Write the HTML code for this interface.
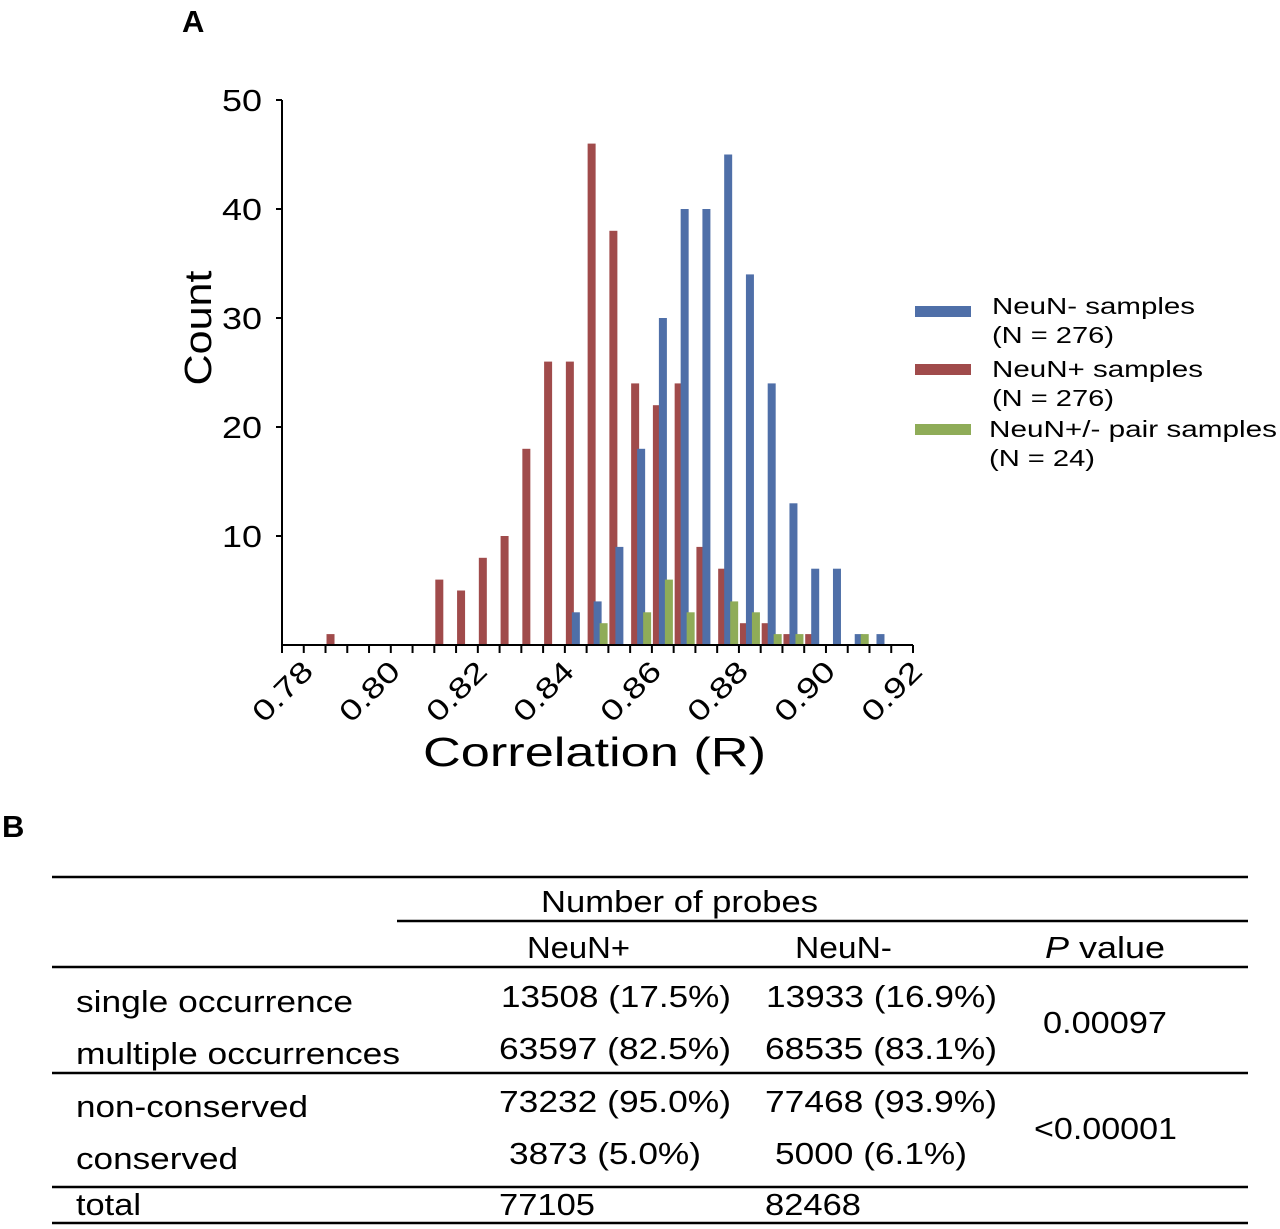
<!DOCTYPE html>
<html><head><meta charset="utf-8"><style>
html,body{margin:0;padding:0;background:#fff;}
svg{display:block;font-family:"Liberation Sans",Arial,sans-serif;}
</style></head><body>
<svg id="fig" width="1280" height="1229" viewBox="0 0 1280 1229">
<text x="182" y="32" font-size="31" font-weight="bold">A</text>
<text x="2" y="837" font-size="31" font-weight="bold">B</text>
<g id="chart"></g>
<g id="legend" font-size="23" lengthAdjust="spacingAndGlyphs">
 <rect x="915" y="306" width="56" height="11" fill="#4f6fa8"/>
 <text x="992" y="314" textLength="203" lengthAdjust="spacingAndGlyphs">NeuN- samples</text>
 <text x="992" y="343" textLength="122" lengthAdjust="spacingAndGlyphs">(N = 276)</text>
 <rect x="915" y="364" width="56" height="11" fill="#a04b4b"/>
 <text x="992" y="377" textLength="211" lengthAdjust="spacingAndGlyphs">NeuN+ samples</text>
 <text x="992" y="406" textLength="122" lengthAdjust="spacingAndGlyphs">(N = 276)</text>
 <rect x="915" y="424" width="56" height="11" fill="#8fac58"/>
 <text x="989" y="437" textLength="288" lengthAdjust="spacingAndGlyphs">NeuN+/- pair samples</text>
 <text x="989" y="466" textLength="106" lengthAdjust="spacingAndGlyphs">(N = 24)</text>
</g>
<g id="table" font-size="31">
 <line x1="52" y1="877" x2="1248" y2="877" stroke="#000" stroke-width="2.5"/>
 <line x1="397" y1="921" x2="1248" y2="921" stroke="#000" stroke-width="2.5"/>
 <line x1="52" y1="967" x2="1248" y2="967" stroke="#000" stroke-width="2.5"/>
 <line x1="52" y1="1073" x2="1248" y2="1073" stroke="#000" stroke-width="2.5"/>
 <line x1="52" y1="1187" x2="1248" y2="1187" stroke="#000" stroke-width="2.5"/>
 <line x1="52" y1="1223" x2="1248" y2="1223" stroke="#000" stroke-width="2.5"/>
 <text x="541" y="912" textLength="277" lengthAdjust="spacingAndGlyphs">Number of probes</text>
 <text x="527" y="958" textLength="103" lengthAdjust="spacingAndGlyphs">NeuN+</text>
 <text x="795" y="958" textLength="97" lengthAdjust="spacingAndGlyphs">NeuN-</text>
 <text x="1045" y="958" textLength="120" lengthAdjust="spacingAndGlyphs"><tspan font-style="italic">P</tspan>  value</text>
 <text x="76" y="1012" textLength="277" lengthAdjust="spacingAndGlyphs">single occurrence</text>
 <text x="76" y="1064" textLength="324" lengthAdjust="spacingAndGlyphs">multiple occurrences</text>
 <text x="76" y="1117" textLength="232" lengthAdjust="spacingAndGlyphs">non-conserved</text>
 <text x="76" y="1169" textLength="162" lengthAdjust="spacingAndGlyphs">conserved</text>
 <text x="76" y="1215" textLength="65" lengthAdjust="spacingAndGlyphs">total</text>
 <text x="501" y="1007" textLength="230" lengthAdjust="spacingAndGlyphs">13508 (17.5%)</text>
 <text x="499" y="1059" textLength="232" lengthAdjust="spacingAndGlyphs">63597 (82.5%)</text>
 <text x="499" y="1112" textLength="232" lengthAdjust="spacingAndGlyphs">73232 (95.0%)</text>
 <text x="509" y="1164" textLength="192" lengthAdjust="spacingAndGlyphs">3873 (5.0%)</text>
 <text x="499" y="1215" textLength="96" lengthAdjust="spacingAndGlyphs">77105</text>
 <text x="766" y="1007" textLength="231" lengthAdjust="spacingAndGlyphs">13933 (16.9%)</text>
 <text x="765" y="1059" textLength="232" lengthAdjust="spacingAndGlyphs">68535 (83.1%)</text>
 <text x="765" y="1112" textLength="232" lengthAdjust="spacingAndGlyphs">77468 (93.9%)</text>
 <text x="775" y="1164" textLength="192" lengthAdjust="spacingAndGlyphs">5000 (6.1%)</text>
 <text x="765" y="1215" textLength="96" lengthAdjust="spacingAndGlyphs">82468</text>
 <text x="1043" y="1033" textLength="124" lengthAdjust="spacingAndGlyphs">0.00097</text>
 <text x="1034" y="1139" textLength="143" lengthAdjust="spacingAndGlyphs">&lt;0.00001</text>
</g>
</svg>
<script>
const categories = [0.78,0.785,0.79,0.795,0.80,0.805,0.81,0.815,0.82,0.825,0.83,0.835,0.84,0.845,0.85,0.855,0.86,0.865,0.87,0.875,0.88,0.885,0.89,0.895,0.90,0.905,0.91,0.915,0.92];
const neunPlus  = [0,0,1,0,0,0,0,6,5,8,10,18,26,26,46,38,24,22,24,9,7,2,2,1,1,0,0,0,0];
const neunMinus = [0,0,0,0,0,0,0,0,0,0,0,0,0,3,4,9,18,30,40,40,45,34,24,13,7,7,1,1,0];
const pairs     = [0,0,0,0,0,0,0,0,0,0,0,0,0,0,2,0,3,6,3,0,4,3,1,1,0,0,1,0,0];
const yTicks = [10,20,30,40,50];
const xTickLabels = ["0.78","0.80","0.82","0.84","0.86","0.88","0.90","0.92"];

const NS='http://www.w3.org/2000/svg';
const g=document.getElementById('chart');
const X0=282, X1=913, Y0=645, Y1=100, YMAX=50;
const cw=(X1-X0)/categories.length;
const xs=i=>X0+i*cw;
const ys=v=>Y0-(v/YMAX)*(Y0-Y1);
function mk(tag,attrs,parent){const e=document.createElementNS(NS,tag);for(const k in attrs)e.setAttribute(k,attrs[k]);(parent||g).appendChild(e);return e;}

const series=[{d:neunPlus,c:'#a04b4b',off:0,n:'bar-neun-plus'},{d:neunMinus,c:'#4f6fa8',off:6,n:'bar-neun-minus'},{d:pairs,c:'#8fac58',off:12,n:'bar-pair'}];
series.forEach(s=>{s.d.forEach((v,i)=>{if(!v)return;
 const r=mk('rect',{x:xs(i)+s.off+1,y:ys(v),width:8,height:Y0-ys(v),fill:s.c});
 
 
});});

const ya=mk('line',{x1:X0,y1:Y1,x2:X0,y2:Y0,stroke:'#000','stroke-width':2});


const xa=mk('line',{x1:X0,y1:Y0,x2:X1,y2:Y0,stroke:'#000','stroke-width':2});


yTicks.forEach(t=>{
 mk('line',{x1:X0-6,y1:ys(t),x2:X0,y2:ys(t),stroke:'#000','stroke-width':2});
 const tx=mk('text',{x:X0-20,y:ys(t)+11,'font-size':31,'text-anchor':'end',textLength:40,lengthAdjust:'spacingAndGlyphs'});
 tx.textContent=t;
 
 
});
for(let i=0;i<=categories.length;i++){mk('line',{x1:xs(i),y1:Y0,x2:xs(i),y2:Y0+8,stroke:'#000','stroke-width':2});}
xTickLabels.forEach((l,k)=>{
 const cx=xs(k*4)+cw/2+22, cy=Y0+28;
 const tx=mk('text',{x:cx,y:cy,'font-size':29,'text-anchor':'end',textLength:72,lengthAdjust:'spacingAndGlyphs',transform:`rotate(-45 ${cx} ${cy})`});
 tx.textContent=l;
 
 
});
const yt=mk('text',{x:0,y:0,'font-size':38,'text-anchor':'middle',textLength:115,lengthAdjust:'spacingAndGlyphs',transform:'translate(211 328) rotate(-90)'});
yt.textContent='Count';


const xt=mk('text',{x:423,y:766,'font-size':41,textLength:343,lengthAdjust:'spacingAndGlyphs'});
xt.textContent='Correlation (R)';


</script>
</body></html>
